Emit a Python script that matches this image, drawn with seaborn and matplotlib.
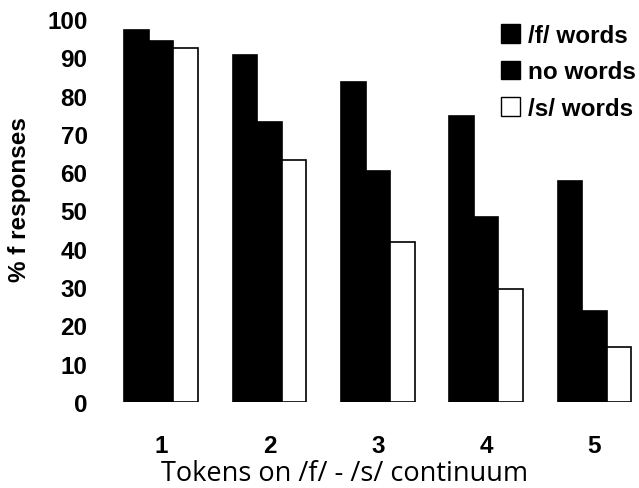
import matplotlib
matplotlib.use("Agg")
import matplotlib.pyplot as plt
import seaborn as sns
import pandas as pd
from matplotlib.patches import Patch

tokens = ["1", "2", "3", "4", "5"]
series = ["/f/ words", "no words", "/s/ words"]
f_words = [97.1, 90.7, 83.6, 74.8, 57.8]
no_words = [94.3, 73.0, 60.2, 48.4, 23.8]
s_words = [92.5, 63.1, 41.9, 29.5, 14.3]
yticks = [0, 10, 20, 30, 40, 50, 60, 70, 80, 90, 100]

rows = []
for name, vals in zip(series, [f_words, no_words, s_words]):
    for t, v in zip(tokens, vals):
        rows.append({"token": t, "series": name, "value": v})
df = pd.DataFrame(rows)

sns.set_theme(style="white")
plt.rcParams["font.family"] = ["Liberation Sans", "DejaVu Sans"]
plt.rcParams["text.color"] = "black"
plt.rcParams["xtick.color"] = "black"
plt.rcParams["ytick.color"] = "black"
plt.rcParams["axes.labelcolor"] = "black"

W, H = 639, 489
fig = plt.figure(figsize=(W / 100, H / 100), dpi=100)
left_px, right_px, top_px, bottom_px = 107, 640, 20, 403
ax = fig.add_axes([left_px / W, 1 - bottom_px / H, (right_px - left_px) / W, (bottom_px - top_px) / H])

colors = ["black", "black", "white"]
sns.barplot(data=df, x="token", y="value", hue="series", order=tokens, hue_order=series,
            palette=colors, width=0.68, edgecolor="black", linewidth=1.2,
            saturation=1, legend=False, ax=ax)

ax.set_xlim(-0.5, 4.42)
ax.set_ylim(0, 100)
ax.set_yticks(yticks)
ax.set_yticklabels([str(v) for v in yticks], fontsize=17.5, fontweight="bold")
ax.set_xticklabels(tokens, fontsize=17.5, fontweight="bold")
ax.tick_params(axis="y", length=0, pad=14)
ax.tick_params(axis="x", length=0, pad=23)
for s in ax.spines.values():
    s.set_visible(False)
ax.set_xlabel("")
ax.set_ylabel("")
fig.text(345 / W, 1 - 474 / H, "Tokens on /f/ - /s/ continuum", ha="center", va="center",
         fontsize=19.5, family=["Open Sans", "DejaVu Sans"])
fig.text(20 / W, 1 - 200 / H, "% f responses", rotation=90, ha="center", va="center",
         fontsize=17.5, fontweight="bold")

handles = [Patch(facecolor=c, edgecolor="black", linewidth=1.0) for c in colors]
leg = ax.legend(handles, series, loc="upper left", bbox_to_anchor=(501 / W, 1 - 25 / H),
                bbox_transform=fig.transFigure, frameon=False, borderpad=0, borderaxespad=0,
                handlelength=0.8, handleheight=0.8, handletextpad=0.3, labelspacing=0.55,
                prop={"size": 17.5, "weight": "bold"})

fig.savefig("out.png", dpi=100)
